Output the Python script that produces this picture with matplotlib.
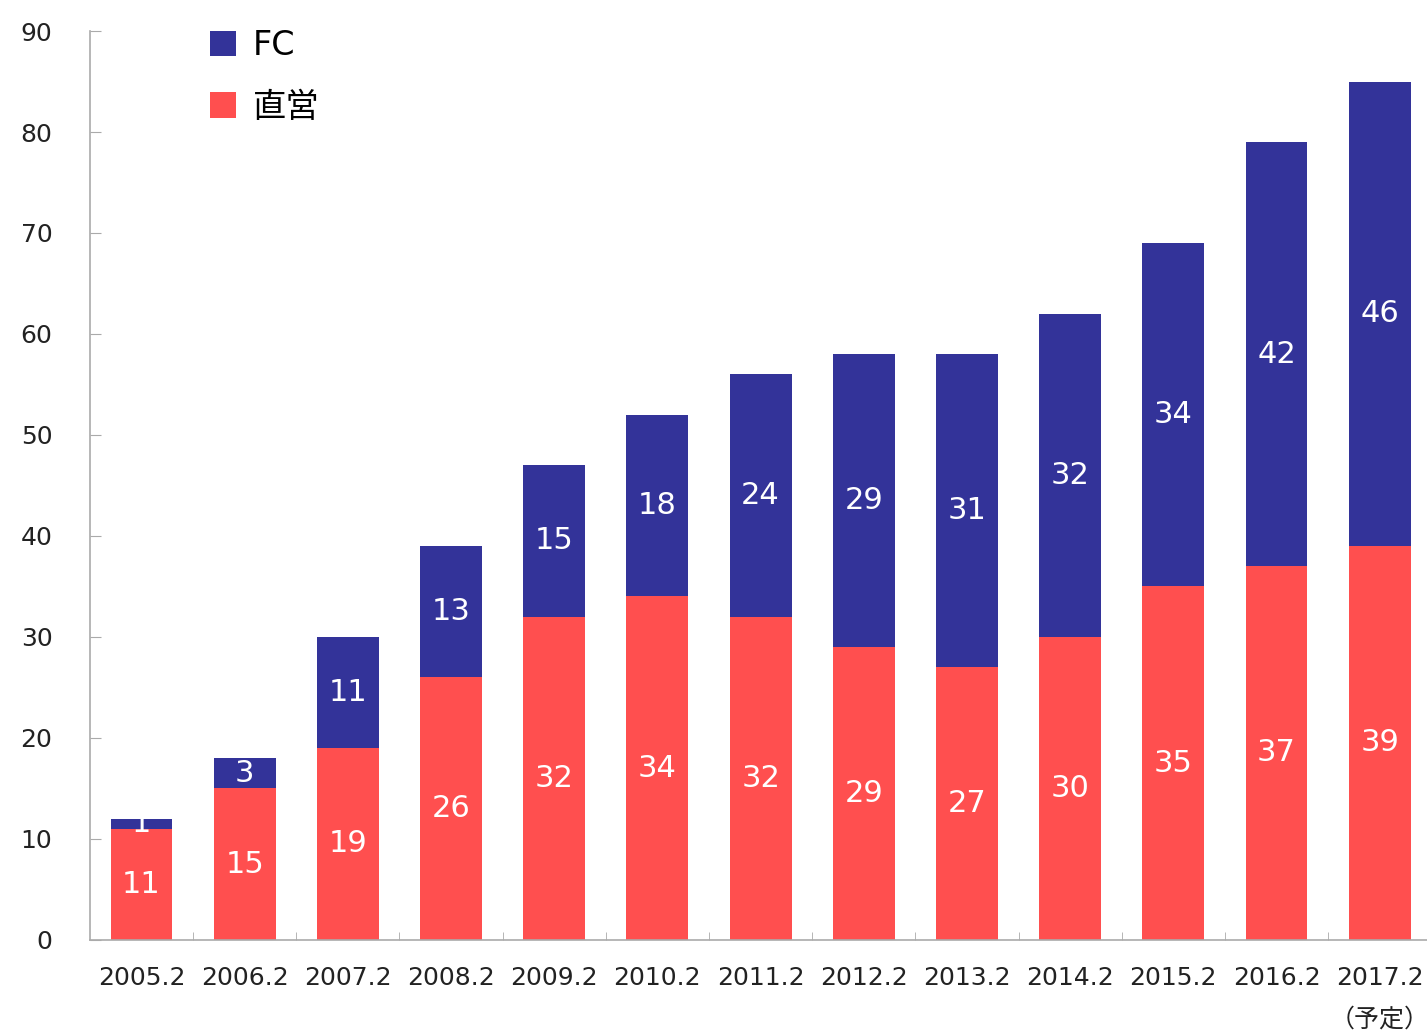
import matplotlib
matplotlib.use("Agg")
import matplotlib.pyplot as plt
import numpy as np

plt.rcParams['font.family'] = ['DejaVu Sans', 'Noto Sans CJK JP']

categories = ["2005.2", "2006.2", "2007.2", "2008.2", "2009.2", "2010.2", "2011.2",
              "2012.2", "2013.2", "2014.2", "2015.2", "2016.2", "2017.2\n（予定）"]
direct = [11, 15, 19, 26, 32, 34, 32, 29, 27, 30, 35, 37, 39]
fc = [1, 3, 11, 13, 15, 18, 24, 29, 31, 32, 34, 42, 46]

c_fc = "#333399"
c_dir = "#FF4F4F"

fig = plt.figure(figsize=(14.27, 10.35), dpi=100)
ax = fig.add_axes([0.063, 0.092, 0.940, 0.878])
x = np.arange(len(categories))
b1 = ax.bar(x, direct, width=0.6, color=c_dir, label="直営")
b2 = ax.bar(x, fc, width=0.6, bottom=direct, color=c_fc, label="FC")

for xi, d, f in zip(x, direct, fc):
    ax.text(xi, d / 2, str(d), ha="center", va="center", color="white", fontsize=22)
    ax.text(xi, d + f / 2, str(f), ha="center", va="center", color="white", fontsize=22)

ax.set_xlim(-0.5, 12.5)
ax.set_ylim(0, 90)
ax.set_yticks(range(0, 91, 10))
ax.set_xticks(x)
ax.set_xticklabels(categories, fontsize=18, color="#222222",
                   family=['DejaVu Sans', 'Noto Sans CJK JP'], linespacing=1.9)
ax.set_xticks(np.arange(0.5, 12.5, 1), minor=True)
ax.tick_params(axis="x", which="major", length=0, pad=19)
ax.tick_params(axis="x", which="minor", length=6, direction="in", color="#aaaaaa")
ax.tick_params(axis="y", length=8, direction="in", color="#aaaaaa", labelsize=18,
               labelcolor="#222222", pad=27)
for s in ["top", "right"]:
    ax.spines[s].set_visible(False)
for s in ["left", "bottom"]:
    ax.spines[s].set_color("#aaaaaa")
    ax.spines[s].set_linewidth(1.2)

handles = [b2, b1]
leg = ax.legend(handles, ["FC", "直営"], loc="upper left", bbox_to_anchor=(0.067, 1.035),
                frameon=False, handlelength=0.8, handleheight=0.8,
                handletextpad=0.5, labelspacing=0.85,
                prop={'family': ['DejaVu Sans', 'Noto Sans CJK JP'], 'size': 24})

fig.savefig("out.png", dpi=100)
